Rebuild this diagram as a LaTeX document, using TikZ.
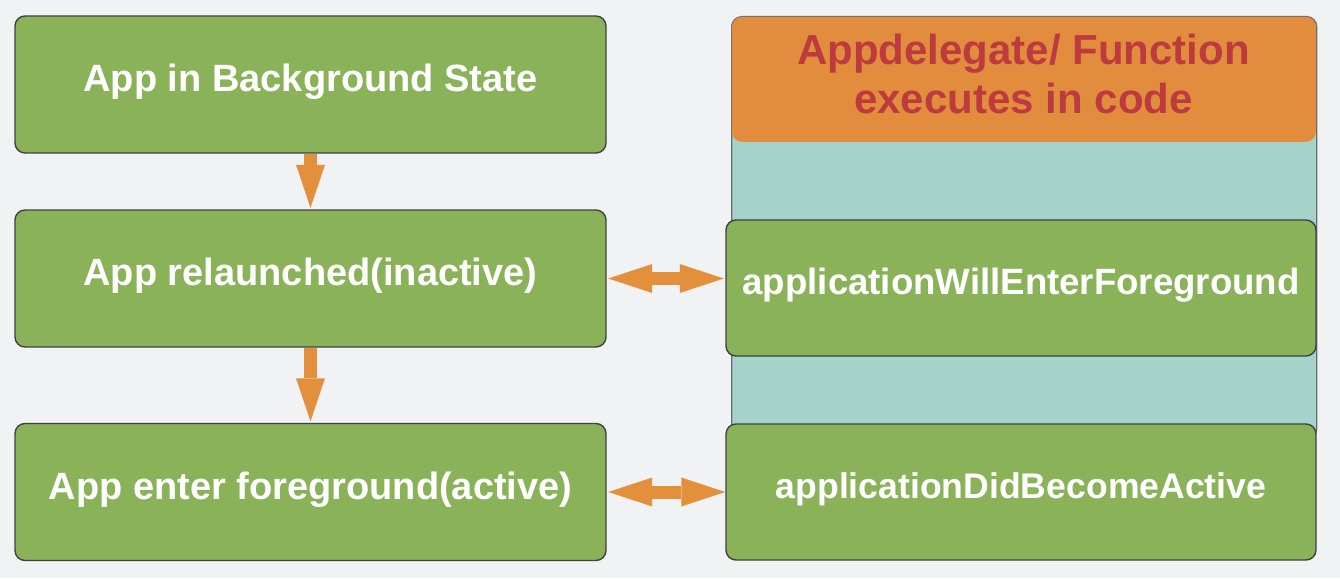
\documentclass[tikz,border=0pt]{standalone}
\usepackage{fontspec}
\setmainfont{Liberation Sans}
\usetikzlibrary{arrows.meta}
\definecolor{bgc}{HTML}{F1F2F4}
\definecolor{boxgreen}{HTML}{8AB258}
\definecolor{edgec}{HTML}{3F4244}
\definecolor{panedge}{HTML}{6A6D70}
\definecolor{arrc}{HTML}{E3903D}
\definecolor{tealc}{HTML}{A6D3C9}
\definecolor{hdrc}{HTML}{E28D3D}
\definecolor{hdrtext}{HTML}{BD3B3E}
\begin{document}
\begin{tikzpicture}[x=1pt,y=-1pt,
  state/.style={draw=edgec, line width=1.4pt, fill=boxgreen, rounded corners=10pt,
    minimum width=591pt, minimum height=137pt, inner sep=0pt, text=white,
    font=\bfseries\fontsize{38}{44}\selectfont, text height=27pt, text depth=14pt},
  func/.style={state, minimum width=590pt, minimum height=136pt,
    font=\bfseries\fontsize{36.6}{44}\selectfont, text height=26pt, text depth=14pt},
  hdrtxt/.style={anchor=base, inner sep=0pt, text=hdrtext,
    font=\bfseries\fontsize{42}{49}\selectfont},
  flow/.style={draw=arrc, line width=13pt, line cap=butt, -{Triangle[length=43pt,width=29pt,line width=0pt]}},
  both/.style={draw=arrc, line width=13pt, line cap=butt, {Triangle[length=44pt,width=29pt,line width=0pt]}-{Triangle[length=44pt,width=29pt,line width=0pt]}}
]
\fill[bgc] (0,0) rectangle (1340,578);
\useasboundingbox (0,0) rectangle (1340,578);

% right panel
\node (panel) [draw=panedge, line width=1.4pt, fill=tealc, rounded corners=10pt,
  minimum width=585pt, minimum height=422pt, inner sep=0pt, anchor=north west] at (731,16) {};
\node (hdr) [fill=hdrc, rounded corners=10pt, minimum width=584pt, minimum height=125pt,
  inner sep=0pt, anchor=north west] at (731.7,16.7) {};
\node (h1) [hdrtxt] at (1023.5,64) {Appdelegate/ Function};
\node (h2) [hdrtxt] at (1023.5,113) {executes in code};

% left states
\node (b1) [state] at (310.5,84.5) {App in Background State};
\node (b2) [state] at (310.5,278.5) {App relaunched(inactive)};
\node (b3) [state, text depth=12pt] at (310.5,492) {App enter foreground(active)};

% right functions
\node (f1) [func] at (1021,288) {applicationWillEnterForeground};
\node (f2) [func, font=\bfseries\fontsize{35.6}{44}\selectfont] at (1021,492) {applicationDidBecomeActive};

% connectors
\draw[flow, shorten >=1.5pt] (b1.south) -- (b2.north);
\draw[flow, shorten >=1.5pt] (b2.south) -- (b3.north);
\draw[both, shorten <=1.5pt, shorten >=1.5pt] (b2.east) -- (b2.east -| f1.west);
\draw[both, shorten <=1.5pt, shorten >=0pt] (b3.east) -- (b3.east -| f2.west);
\end{tikzpicture}
\end{document}
